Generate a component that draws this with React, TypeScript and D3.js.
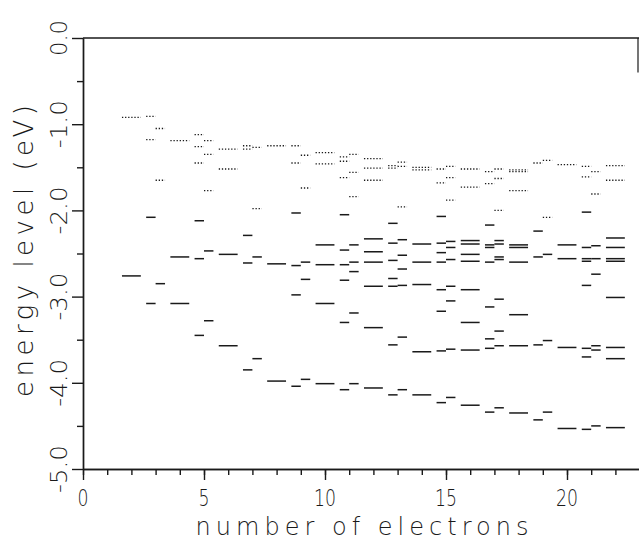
import React, { useEffect, useRef } from "react";
import * as d3 from "d3";

const WIDTH = 639;
const HEIGHT = 543;

// electron counts with a closed shell (one column of levels)
const evenN = [2, 4, 6, 8, 10, 12, 14, 16, 18, 20, 22];
const evenOcc = [
  [-2.76],
  [-2.54, -3.08],
  [-2.51, -3.57],
  [-2.62, -3.98],
  [-2.4, -2.63, -3.08, -4.01],
  [-2.33, -2.48, -2.6, -2.88, -3.36, -4.06],
  [-2.39, -2.6, -2.86, -3.64, -4.14],
  [-2.35, -2.39, -2.51, -2.59, -2.92, -3.3, -3.62, -4.26],
  [-2.4, -2.43, -2.6, -3.21, -3.57, -4.35],
  [-2.4, -2.56, -3.59, -4.53],
  [-2.32, -2.43, -2.56, -2.59, -3.01, -3.59, -3.72, -4.52],
];
const evenEmpty = [
  [-0.92],
  [-1.19],
  [-1.29, -1.52],
  [-1.25],
  [-1.33, -1.46],
  [-1.4, -1.51, -1.65],
  [-1.5, -1.53],
  [-1.52, -1.73],
  [-1.53, -1.55, -1.77],
  [-1.47],
  [-1.48, -1.65],
];

// open shell counts: spin up (left half) and spin down (right half)
const oddN = [3, 5, 7, 9, 11, 13, 15, 17, 19, 21];
const upOcc = [
  [-2.08, -3.08],
  [-2.12, -2.56, -3.45],
  [-2.29, -2.61, -3.85],
  [-2.03, -2.64, -2.98, -4.04],
  [-2.05, -2.46, -2.63, -2.81, -3.3, -4.08],
  [-2.15, -2.38, -2.58, -2.79, -2.88, -3.56, -4.14],
  [-2.07, -2.38, -2.49, -2.6, -2.92, -3.17, -3.63, -4.23],
  [-2.17, -2.4, -2.43, -2.6, -3.12, -3.49, -3.6, -4.34],
  [-2.24, -2.54, -3.56, -4.43],
  [-2.02, -2.43, -2.56, -2.59, -2.87, -3.6, -3.7, -4.54],
];
const upEmpty = [
  [-0.91, -1.18],
  [-1.12, -1.26, -1.45],
  [-1.25, -1.29],
  [-1.25, -1.45],
  [-1.38, -1.43, -1.62],
  [-1.48, -1.51],
  [-1.52, -1.68],
  [-1.55, -1.69],
  [-1.45],
  [-1.49, -1.61],
];
const downOcc = [
  [-2.85],
  [-2.47, -3.28],
  [-2.54, -3.72],
  [-2.6, -2.8, -3.96],
  [-2.4, -2.6, -2.71, -3.19, -4.01],
  [-2.34, -2.52, -2.68, -2.87, -3.47, -4.08],
  [-2.36, -2.43, -2.57, -2.88, -3.05, -3.61, -4.17],
  [-2.35, -2.39, -2.54, -2.57, -3.03, -3.4, -3.57, -4.29],
  [-2.51, -3.51, -4.34],
  [-2.41, -2.56, -2.74, -3.57, -3.62, -4.5],
];
const downEmpty = [
  [-1.05, -1.65],
  [-1.19, -1.35, -1.77],
  [-1.27, -1.98],
  [-1.36, -1.74],
  [-1.35, -1.56, -1.84],
  [-1.44, -1.49, -1.96],
  [-1.49, -1.62, -1.88],
  [-1.52, -1.63, -2.0],
  [-1.42, -2.08],
  [-1.55, -1.81],
];

const xTicks = [0, 5, 10, 15, 20];
const yTicks = [0, -1, -2, -3, -4, -5];
const yTickLabels = ["0.0", "-1.0", "-2.0", "-3.0", "-4.0", "-5.0"];

const FONT = "'DejaVu Sans', sans-serif";
const INK = "#1a1a1a";

type Seg = { n: number; a: number; b: number; e: number; occ: boolean };

const App = () => {
  const xAxisRef = useRef<SVGGElement>(null);
  const yAxisRef = useRef<SVGGElement>(null);

  const x = d3.scaleLinear().domain([0, 23]).range([83, 83 + 24.2 * 23]);
  const y = d3.scaleLinear().domain([-5, 0]).range([469, 38]);

  const segs: Seg[] = [];
  const W = 0.39;
  evenN.forEach((n, i) => {
    evenOcc[i].forEach((e) => segs.push({ n, a: -W, b: W, e, occ: true }));
    evenEmpty[i].forEach((e) => segs.push({ n, a: -W, b: W, e, occ: false }));
  });
  oddN.forEach((n, i) => {
    upOcc[i].forEach((e) => segs.push({ n, a: -W, b: 0, e, occ: true }));
    upEmpty[i].forEach((e) => segs.push({ n, a: -W, b: 0, e, occ: false }));
    downOcc[i].forEach((e) => segs.push({ n, a: 0, b: W, e, occ: true }));
    downEmpty[i].forEach((e) => segs.push({ n, a: 0, b: W, e, occ: false }));
  });

  useEffect(() => {
    const gx = d3.select(xAxisRef.current);
    gx.selectAll("*").remove();
    gx.append("g")
      .call(d3.axisBottom(x).tickValues(d3.range(0, 23)).tickSize(6).tickSizeOuter(0).tickFormat(() => ""));
    gx.append("g")
      .call(d3.axisBottom(x).tickValues(xTicks).tickSize(11).tickSizeOuter(0).tickFormat(() => ""));

    const gy = d3.select(yAxisRef.current);
    gy.selectAll("*").remove();
    gy.append("g")
      .call(d3.axisLeft(y).tickValues(d3.range(-4.5, 0, 1)).tickSize(6).tickSizeOuter(0).tickFormat(() => ""));
    gy.append("g")
      .call(d3.axisLeft(y).tickValues(yTicks).tickSize(11).tickSizeOuter(0).tickFormat(() => ""));

    [gx, gy].forEach((g) => {
      g.selectAll("path,line").attr("stroke", INK).attr("stroke-width", 1.4);
    });
  }, []);

  return (
    <svg
      width={WIDTH}
      height={HEIGHT}
      style={{ position: "absolute", left: 0, top: 0, background: "#fff" }}
    >
      <rect width={WIDTH} height={HEIGHT} fill="#fff" />
      {/* frame pieces */}
      <line x1={x(0)} x2={x(23)} y1={y(0)} y2={y(0)} stroke={INK} strokeWidth={1.4} />
      <line x1={638} x2={638} y1={y(0)} y2={y(-0.4)} stroke={INK} strokeWidth={1.2} />

      <g>
        {segs.map((s, i) => (
          <line
            key={i}
            x1={x(s.n + s.a)}
            x2={x(s.n + s.b)}
            y1={y(s.e)}
            y2={y(s.e)}
            stroke={INK}
            strokeWidth={s.occ ? 1.5 : 1.3}
            strokeDasharray={s.occ ? undefined : "1.3 1.8"}
          />
        ))}
      </g>

      <g ref={xAxisRef} transform={`translate(0,${y(-5)})`} />
      <g ref={yAxisRef} transform={`translate(${x(0)},0)`} />

      <g fontFamily={FONT} fontWeight={200} fill={INK} fontSize={23}>
        {xTicks.map((t) => (
          <text
            key={t}
            x={x(t)}
            y={506}
            textAnchor="middle"
            textLength={String(t).length * 11}
            lengthAdjust="spacingAndGlyphs"
          >
            {t}
          </text>
        ))}
        {yTicks.map((t, i) => (
          <text
            key={t}
            transform={`translate(67,${y(t)}) rotate(-90)`}
            textAnchor="middle"
            textLength={yTickLabels[i].length * 12}
            lengthAdjust="spacingAndGlyphs"
          >
            {yTickLabels[i]}
          </text>
        ))}
        <text
          x={362}
          y={535}
          textAnchor="middle"
          fontSize={24}
          textLength={333}
          lengthAdjust="spacing"
        >
          number of electrons
        </text>
        <text
          transform={`translate(33,251) rotate(-90)`}
          textAnchor="middle"
          fontSize={26}
          textLength={292}
          lengthAdjust="spacing"
        >
          energy level (eV)
        </text>
      </g>
    </svg>
  );
};

export default App;
